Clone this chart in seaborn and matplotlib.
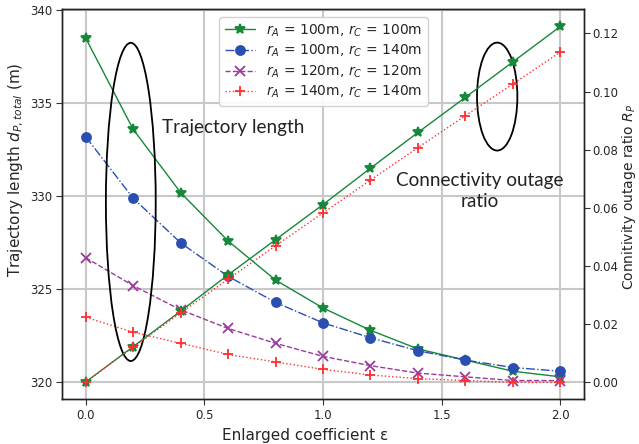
import numpy as np
import pandas as pd
import matplotlib
matplotlib.use("Agg")
import matplotlib.pyplot as plt
from matplotlib.patches import Ellipse
import seaborn as sns

eps = [0.0, 0.2, 0.4, 0.6, 0.8, 1.0, 1.2, 1.4, 1.6, 1.8, 2.0]

# Trajectory length (left axis)
len_100_100 = [338.5, 333.6, 330.2, 327.6, 325.5, 324.0, 322.8, 321.8, 321.2, 320.6, 320.3]
len_100_140 = [333.2, 329.9, 327.5, 325.7, 324.3, 323.2, 322.4, 321.7, 321.2, 320.8, 320.6]
len_120_120 = [326.7, 325.2, 323.9, 322.9, 322.1, 321.4, 320.9, 320.5, 320.3, 320.1, 320.1]
len_140_140 = [323.5, 322.7, 322.1, 321.5, 321.1, 320.7, 320.4, 320.2, 320.1, 320.0, 320.0]

# Connectivity outage ratio (right axis)
out_100_100 = [0.0, 0.0122, 0.0244, 0.0369, 0.0490, 0.0611, 0.0736, 0.0859, 0.0980, 0.1102, 0.1224]
out_140_140 = [0.0, 0.0120, 0.0238, 0.0354, 0.0469, 0.0582, 0.0695, 0.0807, 0.0917, 0.1026, 0.1136]

labels = [r"$r_A$ = 100m, $r_C$ = 100m", r"$r_A$ = 100m, $r_C$ = 140m",
          r"$r_A$ = 120m, $r_C$ = 120m", r"$r_A$ = 140m, $r_C$ = 140m"]
colors = ["#16883a", "#2a4fb0", "#9a3a9c", "#ff3030"]
markers = ["*", "o", "x", "+"]
lstyles = ["-", "-.", "--", ":"]
msizes = [7, 6.5, 6.5, 6.5]

sns.set_theme(style="ticks")
plt.rcParams['font.family'] = ['DejaVu Sans']

fig = plt.figure(figsize=(6.39, 4.44), dpi=100)
ax = fig.add_axes([0.097, 0.101, 0.817, 0.878])
ax2 = ax.twinx()

lens = [len_100_100, len_100_140, len_120_120, len_140_140]
for i, ys in enumerate(lens):
    df = pd.DataFrame({"eps": eps, "v": ys})
    sns.lineplot(data=df, x="eps", y="v", ax=ax, color=colors[i], marker=markers[i],
                 linestyle=lstyles[i], linewidth=1.0, markersize=msizes[i],
                 markeredgecolor=colors[i], markeredgewidth=1.3, label=labels[i], legend=False)

for i, ys in [(0, out_100_100), (3, out_140_140)]:
    df = pd.DataFrame({"eps": eps, "v": ys})
    sns.lineplot(data=df, x="eps", y="v", ax=ax2, color=colors[i], marker=markers[i],
                 linestyle=lstyles[i], linewidth=1.0, markersize=msizes[i],
                 markeredgecolor=colors[i], markeredgewidth=1.3, legend=False)

ax.set_xlim(-0.1, 2.1)
ax.set_ylim(319.1, 340.05)
ax2.set_ylim(-0.0059, 0.1283)
ax.set_xticks([0.0, 0.5, 1.0, 1.5, 2.0])
ax.set_yticks([320, 325, 330, 335, 340])
ax2.set_yticks([0.0, 0.02, 0.04, 0.06, 0.08, 0.10, 0.12])
ax.set_xticklabels(["0.0", "0.5", "1.0", "1.5", "2.0"])
ax2.set_yticklabels(["0.00", "0.02", "0.04", "0.06", "0.08", "0.10", "0.12"])

ax.grid(True, color="#c8c8c8", linewidth=1.5)
ax.set_axisbelow(True)
for a in (ax, ax2):
    a.tick_params(labelsize=8.5, length=4, width=0.8, color="#333333", pad=3)
    for s in a.spines.values():
        s.set_color("#222222")
        s.set_linewidth(1.0)
ax2.tick_params(pad=2)

ax.set_xlabel("Enlarged coefficient ε", fontsize=11)
ax.set_ylabel(r"Trajectory length $d_{P,total}$ (m)", fontsize=11)
ax2.set_ylabel(r"Connitivity outage ratio $R_P$", fontsize=10)
ax.xaxis.set_label_coords(0.466, -0.075)
ax.yaxis.set_label_coords(-0.069, 0.588)
ax2.yaxis.set_label_coords(1.068, 0.519)

# ellipses and annotations
ax.add_patch(Ellipse((0.19, 329.7), 0.21, 17.1, fill=False, edgecolor="black", linewidth=1.3, zorder=5))
ax.add_patch(Ellipse((1.734, 335.36), 0.17, 5.8, fill=False, edgecolor="black", linewidth=1.3, zorder=5))
ax.text(0.32, 333.7, "Trajectory length", fontsize=13.6, family="Lato", ha="left", va="center", color="#222222")
ax.text(1.66, 330.3, "Connectivity outage\nratio", fontsize=13.6, family="Lato", ha="center", va="center",
        color="#222222", linespacing=1.3)

h, l = ax.get_legend_handles_labels()
leg = ax2.legend(h, l, loc="upper left", bbox_to_anchor=(0.301, 0.981), borderaxespad=0, fontsize=10,
                 frameon=True, framealpha=0.9, edgecolor="#cccccc", handlelength=2.2, labelspacing=0.3)

fig.savefig("out.png", dpi=100)
